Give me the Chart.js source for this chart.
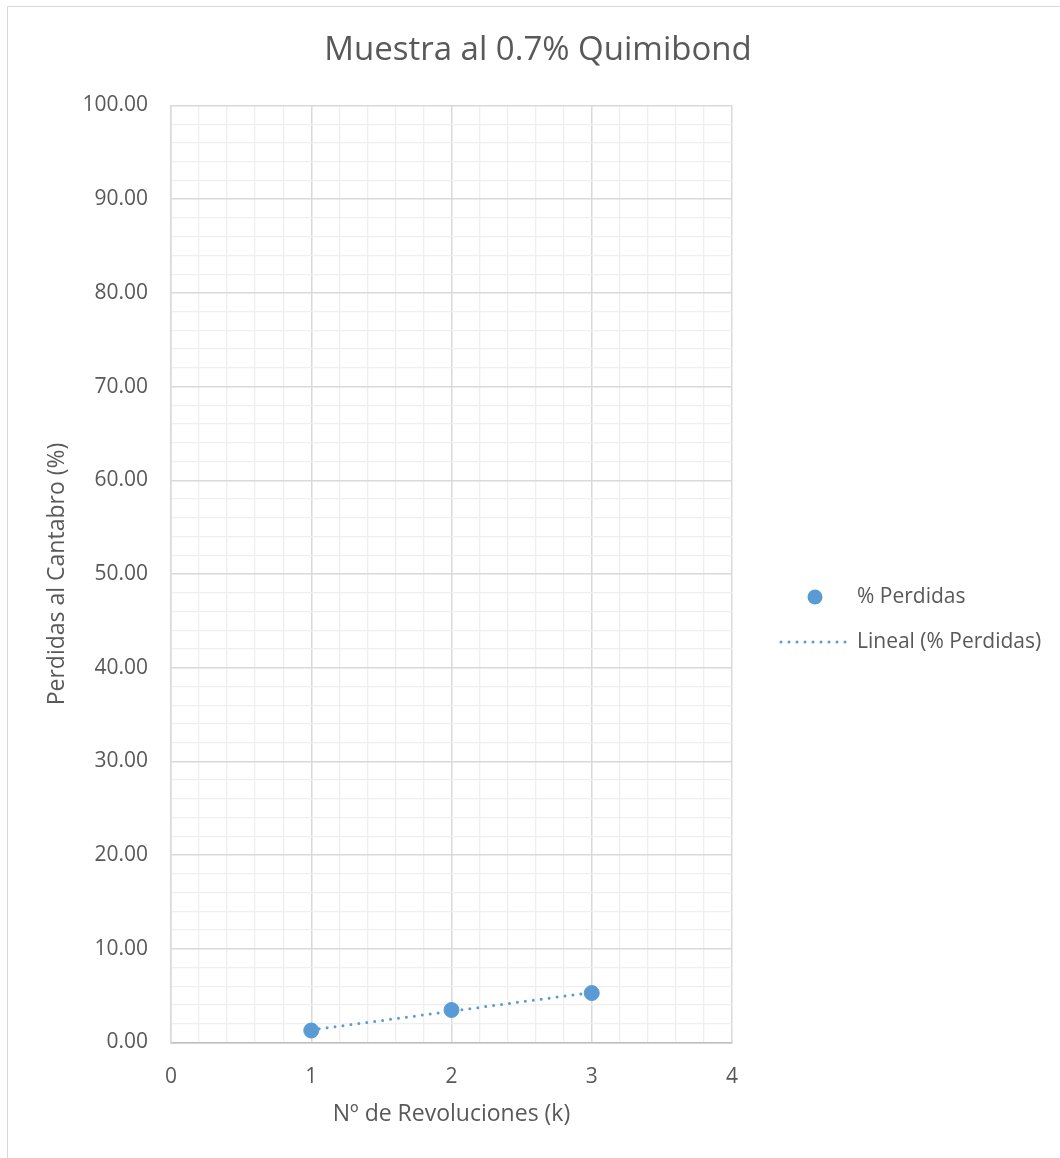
<!DOCTYPE html>
<html>
<head>
<meta charset="utf-8">
<title>Muestra al 0.7% Quimibond</title>
<script src="https://cdn.jsdelivr.net/npm/chart.js@4.4.1/dist/chart.umd.min.js"></script>
<style>
  html, body { margin: 0; padding: 0; background: #fff; overflow: hidden; }
  #frame {
    position: absolute; left: 7px; top: 6px; width: 1200px; height: 1300px;
    border: 1.5px solid #d9d9d9; box-sizing: border-box;
  }
  #wrap { position: absolute; left: 0; top: 0; width: 1060px; height: 1158px; }
</style>
</head>
<body>
<div id="frame"></div>
<div id="wrap"><canvas id="chart" width="1060" height="1158"></canvas></div>
<script>
const revoluciones = [1, 2, 3];
const perdidas = [1.28, 3.47, 5.28];

const TITLE = 'Muestra al 0.7% Quimibond';
const X_TITLE = 'Nº de Revoluciones (k)';
const Y_TITLE = 'Perdidas al Cantabro (%)';
const SERIES_LABEL = '% Perdidas';
const TREND_LABEL = 'Lineal (% Perdidas)';

const BLUE = '#5b9bd5';
const TEXT = '#595959';
const FONT = "'Open Sans', 'Liberation Sans', sans-serif";

// least squares fit, same as the spreadsheet's linear trendline
function linearFit(xs, ys) {
  const n = xs.length;
  const mx = xs.reduce((a, b) => a + b, 0) / n;
  const my = ys.reduce((a, b) => a + b, 0) / n;
  let sxy = 0, sxx = 0;
  xs.forEach((x, i) => { sxy += (x - mx) * (ys[i] - my); sxx += (x - mx) * (x - mx); });
  const slope = sxy / sxx;
  return { slope, intercept: my - slope * mx };
}

const fit = linearFit(revoluciones, perdidas);
const xFirst = Math.min(...revoluciones);
const xLast = Math.max(...revoluciones);
const trendPoints = [xFirst, xLast].map((x) => ({ x, y: fit.intercept + fit.slope * x }));

const isWhole = (v, step) => Math.abs(v / step - Math.round(v / step)) < 1e-6;
const gridColor = (major) => (ctx) => (ctx.tick && isWhole(ctx.tick.value, major) ? '#d9d9d9' : '#efefef');
const gridWidth = (major) => (ctx) => (ctx.tick && isWhole(ctx.tick.value, major) ? 1.5 : 1.3);

// title centred on the whole canvas, plus a hand drawn legend on the right
const decorations = {
  id: 'decorations',
  afterDraw(chart) {
    const ctx = chart.ctx;
    ctx.save();
    ctx.fillStyle = TEXT;
    ctx.textBaseline = 'middle';
    ctx.textAlign = 'center';
    ctx.font = `33px ${FONT}`;
    ctx.fillText(TITLE, 538, 51);

    ctx.textAlign = 'left';
    ctx.font = `21px ${FONT}`;
    ctx.beginPath();
    ctx.arc(815, 597, 7.5, 0, Math.PI * 2);
    ctx.fillStyle = BLUE;
    ctx.fill();
    ctx.fillStyle = TEXT;
    ctx.fillText(SERIES_LABEL, 857, 597);

    ctx.strokeStyle = BLUE;
    ctx.lineWidth = 3;
    ctx.lineCap = 'round';
    ctx.setLineDash([0, 8]);
    ctx.beginPath();
    ctx.moveTo(781, 642);
    ctx.lineTo(848, 642);
    ctx.stroke();
    ctx.setLineDash([]);
    ctx.fillText(TREND_LABEL, 857, 642);
    ctx.restore();
  },
};

new Chart(document.getElementById('chart'), {
  type: 'scatter',
  data: {
    datasets: [
      {
        label: SERIES_LABEL,
        data: revoluciones.map((x, i) => ({ x, y: perdidas[i] })),
        backgroundColor: BLUE,
        borderColor: BLUE,
        pointRadius: 7.5,
        pointHoverRadius: 7.5,
        order: 0,
      },
      {
        label: TREND_LABEL,
        type: 'line',
        data: trendPoints,
        borderColor: BLUE,
        borderWidth: 3,
        borderDash: [0, 8],
        borderCapStyle: 'round',
        pointRadius: 0,
        fill: false,
        order: 1,
      },
    ],
  },
  options: {
    responsive: false,
    animation: false,
    events: [],
    layout: { padding: { left: 20, right: 328, top: 105.5, bottom: 20 } },
    plugins: {
      legend: { display: false },
      tooltip: { enabled: false },
      title: { display: false },
    },
    scales: {
      x: {
        type: 'linear',
        min: 0,
        max: 4,
        ticks: {
          stepSize: 0.2,
          autoSkip: false,
          maxRotation: 0,
          padding: 22,
          color: TEXT,
          font: { family: FONT, size: 21 },
          callback: (v) => (isWhole(v, 1) ? String(Math.round(v)) : ''),
        },
        grid: { color: gridColor(1), lineWidth: gridWidth(1), drawTicks: false },
        border: { color: '#bfbfbf', width: 1.5 },
        title: {
          display: true,
          text: X_TITLE,
          color: TEXT,
          font: { family: FONT, size: 23 },
          padding: { top: 0, bottom: 10 },
        },
        afterFit: (scale) => { scale.height = 95.5; },
      },
      y: {
        type: 'linear',
        min: 0,
        max: 100,
        ticks: {
          stepSize: 2,
          autoSkip: false,
          padding: 23,
          color: TEXT,
          font: { family: FONT, size: 21 },
          callback: (v) => (isWhole(v, 10) ? v.toFixed(2) : ''),
        },
        grid: { color: gridColor(10), lineWidth: gridWidth(10), drawTicks: false },
        border: { color: '#d9d9d9', width: 1.5 },
        title: {
          display: true,
          text: Y_TITLE,
          color: TEXT,
          font: { family: FONT, size: 23 },
          padding: { top: 24, bottom: 0 },
        },
        afterFit: (scale) => { scale.width = 151; },
      },
    },
  },
  plugins: [decorations],
});
</script>
</body>
</html>
